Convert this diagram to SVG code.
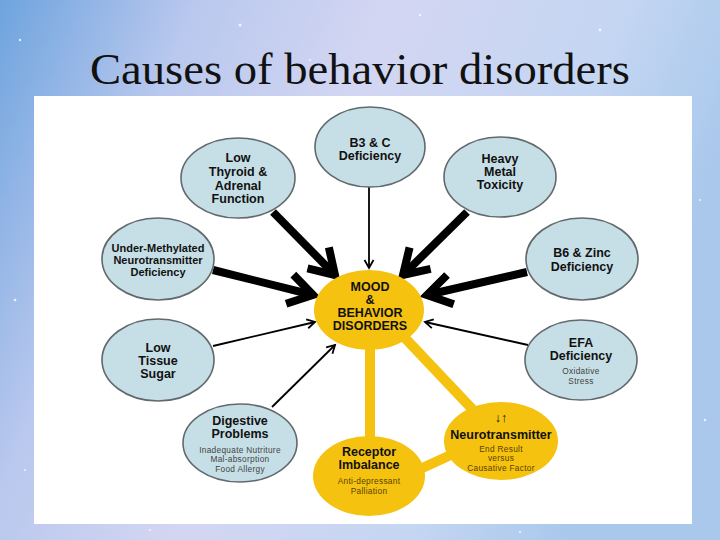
<svg xmlns="http://www.w3.org/2000/svg" width="720" height="540" viewBox="0 0 720 540">
<defs>
<linearGradient id="bg" x1="0" y1="0" x2="1" y2="0.3">
<stop offset="0" stop-color="#6ea4de"/>
<stop offset="0.25" stop-color="#b9c8ee"/>
<stop offset="0.5" stop-color="#d3d6f2"/>
<stop offset="0.8" stop-color="#c4d6f2"/>
<stop offset="1" stop-color="#a9c8ec"/>
</linearGradient>
<marker id="thick" markerUnits="userSpaceOnUse" viewBox="-30 -20 34 40" markerWidth="34" markerHeight="40" refX="0" refY="0" orient="auto" overflow="visible">
<path d="M-24,-15 L0,0 L-24,15" fill="none" stroke="#000" stroke-width="8" stroke-linejoin="miter"/>
</marker>
<marker id="thin" markerUnits="userSpaceOnUse" viewBox="-10 -6 12 12" markerWidth="12" markerHeight="12" refX="0" refY="0" orient="auto" overflow="visible">
<path d="M-8,-4.5 L0,0 L-8,4.5" fill="none" stroke="#000" stroke-width="1.8"/>
</marker>
</defs>
<style>
.blue{fill:#c6dfe6;stroke:#62696c;stroke-width:1.6}
.yel{fill:#f4c20f;stroke:none}
.t{font-family:"Liberation Sans",Arial,sans-serif;font-weight:bold;font-size:12.5px;fill:#111;text-anchor:middle}
.ts{font-family:"Liberation Sans",Arial,sans-serif;font-weight:bold;font-size:11px;fill:#111;text-anchor:middle}
.s{font-family:"Liberation Sans",Arial,sans-serif;font-size:8.3px;fill:#444;text-anchor:middle;letter-spacing:0.3px}
.sy{font-family:"Liberation Sans",Arial,sans-serif;font-size:8.3px;fill:#5a4300;text-anchor:middle;letter-spacing:0.3px}
.thk{stroke:#000;stroke-width:8;fill:none;marker-end:url(#thick)}
.thn{stroke:#000;stroke-width:1.8;fill:none;marker-end:url(#thin)}
.ylink{stroke:#f4c20f;stroke-width:10;fill:none}
</style>
<rect x="0" y="0" width="720" height="540" fill="url(#bg)"/>
<g fill="#fff" opacity="0.8">
<circle cx="20" cy="40" r="1.2"/><circle cx="60" cy="150" r="1"/><circle cx="15" cy="300" r="1.3"/><circle cx="25" cy="470" r="1"/>
<circle cx="240" cy="25" r="1.5"/><circle cx="420" cy="15" r="1.2"/><circle cx="600" cy="30" r="1.4"/><circle cx="700" cy="200" r="1"/>
<circle cx="705" cy="420" r="1.2"/><circle cx="150" cy="530" r="1"/><circle cx="520" cy="532" r="1.1"/><circle cx="310" cy="60" r="1"/>
</g>
<text x="360" y="84" font-family="Liberation Serif,'Times New Roman',serif" font-size="45" fill="#111" text-anchor="middle" textLength="540" lengthAdjust="spacingAndGlyphs">Causes of behavior disorders</text>
<rect x="34" y="96" width="658" height="428" fill="#fff"/>

<g id="connectors">
<line class="ylink" x1="370" y1="340" x2="370" y2="440"/>
<line class="ylink" x1="405" y1="338" x2="475" y2="412"/>
<line class="ylink" x1="418" y1="470" x2="455" y2="453"/>
<line class="thn" x1="369" y1="187" x2="369" y2="268"/>
<line class="thk" x1="273" y1="212" x2="335" y2="275"/>
<line class="thk" x1="467" y1="212" x2="403" y2="275"/>
<line class="thk" x1="213" y1="270" x2="313" y2="295"/>
<line class="thk" x1="527" y1="272" x2="427" y2="295"/>
<line class="thn" x1="213" y1="346" x2="315" y2="322"/>
<line class="thn" x1="272" y1="407" x2="335" y2="345"/>
<line class="thn" x1="528" y1="345" x2="425" y2="322"/>
</g>

<g id="mood">
<ellipse class="yel" cx="369" cy="310" rx="55" ry="40"/>
<text class="t" x="370" y="291">MOOD</text>
<text class="t" x="370" y="304">&amp;</text>
<text class="t" x="370" y="317">BEHAVIOR</text>
<text class="t" x="370" y="330">DISORDERS</text>
</g>
<g id="b3c">
<ellipse class="blue" cx="370" cy="147" rx="55" ry="40"/>
<text class="t" x="370" y="147">B3 &amp; C</text>
<text class="t" x="370" y="160">Deficiency</text>
</g>
<g id="thyroid">
<ellipse class="blue" cx="238" cy="178" rx="57" ry="40"/>
<text class="t" x="238" y="162">Low</text>
<text class="t" x="238" y="176">Thyroid &amp;</text>
<text class="t" x="238" y="190">Adrenal</text>
<text class="t" x="238" y="203">Function</text>
</g>
<g id="heavymetal">
<ellipse class="blue" cx="500" cy="177" rx="56" ry="40"/>
<text class="t" x="500" y="163">Heavy</text>
<text class="t" x="500" y="176">Metal</text>
<text class="t" x="500" y="189">Toxicity</text>
</g>
<g id="undermethylated">
<ellipse class="blue" cx="158" cy="259" rx="56" ry="41"/>
<text class="ts" x="158" y="252">Under-Methylated</text>
<text class="ts" x="158" y="264">Neurotransmitter</text>
<text class="ts" x="158" y="276">Deficiency</text>
</g>
<g id="b6zinc">
<ellipse class="blue" cx="582" cy="259" rx="56" ry="41"/>
<text class="t" x="582" y="257">B6 &amp; Zinc</text>
<text class="t" x="582" y="271">Deficiency</text>
</g>
<g id="lowtissue">
<ellipse class="blue" cx="158" cy="360" rx="56" ry="41"/>
<text class="t" x="158" y="352">Low</text>
<text class="t" x="158" y="365">Tissue</text>
<text class="t" x="158" y="378">Sugar</text>
</g>
<g id="efa">
<ellipse class="blue" cx="581" cy="360" rx="56" ry="40"/>
<text class="t" x="581" y="347">EFA</text>
<text class="t" x="581" y="360">Deficiency</text>
<text class="s" x="581" y="374">Oxidative</text>
<text class="s" x="581" y="384">Stress</text>
</g>
<g id="digestive">
<ellipse class="blue" cx="240" cy="443" rx="57" ry="39"/>
<text class="t" x="240" y="425">Digestive</text>
<text class="t" x="240" y="438">Problems</text>
<text class="s" x="240" y="453">Inadequate Nutriture</text>
<text class="s" x="240" y="462">Mal-absorption</text>
<text class="s" x="240" y="472">Food Allergy</text>
</g>
<g id="receptor">
<ellipse class="yel" cx="369" cy="476" rx="56" ry="40"/>
<text class="t" x="369" y="456">Receptor</text>
<text class="t" x="369" y="469">Imbalance</text>
<text class="sy" x="369" y="484">Anti-depressant</text>
<text class="sy" x="369" y="494">Palliation</text>
</g>
<g id="neurotransmitter">
<ellipse class="yel" cx="501" cy="441" rx="57" ry="39"/>
<text class="t" x="501" y="422">↓↑</text>
<text class="t" x="501" y="439">Neurotransmitter</text>
<text class="sy" x="501" y="452">End Result</text>
<text class="sy" x="501" y="461">versus</text>
<text class="sy" x="501" y="471">Causative Factor</text>
</g>
</svg>
